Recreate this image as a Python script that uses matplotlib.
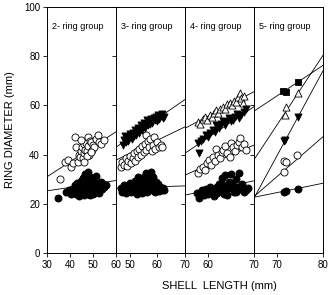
import matplotlib
matplotlib.use("Agg")
import matplotlib.pyplot as plt
import numpy as np

plt.rcParams['font.family'] = ['Liberation Sans', 'DejaVu Sans']

## Panel settings
TITLES = ["2- ring group", "3- ring group", "4- ring group", "5- ring group"]
XLIMS = [(30, 60), (45, 70), (55, 70), (65, 80)]
XTICKS = [[30, 40, 50, 60], [50, 60, 70], [60, 70], [70, 80]]
YTICKS = [0, 20, 40, 60, 80, 100]

# 2-ring group
p1_open_x = [35.6, 38.0, 39.2, 40.6, 41.3, 42.4, 42.7, 43.3, 43.8, 44.2, 44.8, 45.3, 45.6, 46.0, 46.3,
             46.7, 47.0, 47.3, 47.7, 48.0, 48.4, 48.8, 49.2, 49.6, 50.0, 50.6, 51.2, 52.0, 52.7, 53.5,
             54.9, 45.0, 47.5, 49.0, 46.0]
p1_open_y = [30.0, 37.0, 37.8, 35.0, 36.6, 47.3, 43.3, 37.0, 40.0, 39.1, 41.5, 43.0, 38.5, 44.5, 40.5,
             42.0, 44.8, 41.5, 47.3, 43.5, 40.0, 45.5, 45.3, 42.0, 44.0, 43.2, 46.5, 48.0, 45.3, 44.5,
             45.9, 46.0, 39.5, 41.0, 37.0]
p1_fill_x = [34.9, 38.4, 39.5, 40.5, 41.0, 41.8, 42.0, 42.5, 43.0, 43.2, 43.8, 44.0, 44.2, 44.6, 45.0,
             45.3, 45.5, 45.8, 46.0, 46.3, 46.6, 47.0, 47.0, 47.3, 47.7, 47.8, 48.0, 48.3, 48.6, 48.8,
             49.0, 49.3, 49.6, 50.0, 50.2, 50.5, 50.8, 51.2, 51.5, 51.8, 52.2, 52.5, 53.0, 53.5, 54.0,
             54.5, 55.0, 55.6, 46.5, 44.8]
p1_fill_y = [22.6, 24.9, 25.5, 24.0, 26.0, 25.0, 27.5, 24.2, 26.5, 28.5, 25.2, 23.2, 27.0, 29.5, 25.8,
             24.0, 28.0, 30.5, 26.5, 23.5, 28.8, 31.5, 25.0, 27.2, 33.0, 24.0, 29.5, 26.0, 31.0, 23.8,
             28.0, 25.5, 30.0, 27.0, 24.2, 29.0, 26.0, 31.5, 25.0, 28.0, 26.5, 24.5, 27.5, 29.0, 26.0,
             28.0, 27.0, 27.5, 32.0, 26.0]

# 3-ring group
p2_dtri_x = [47.5, 48.0, 48.3, 48.8, 49.2, 49.5, 50.0, 50.3, 50.7, 51.0, 51.4, 51.8, 52.2, 52.5, 52.9,
             53.3, 53.6, 54.0, 54.4, 54.8, 55.1, 55.5, 55.9, 56.2, 56.6, 57.0, 57.4, 57.8, 58.2, 58.6,
             59.0, 59.4, 59.8, 60.2, 60.6, 61.0, 61.5, 62.0, 62.4]
p2_dtri_y = [44.0, 46.0, 47.5, 45.0, 47.0, 45.5, 48.5, 47.0, 46.5, 49.0, 47.5, 50.0, 48.0, 49.5, 51.0,
             49.0, 50.5, 52.0, 50.0, 51.5, 53.0, 51.0, 52.5, 54.0, 52.0, 53.5, 52.5, 54.5, 53.0, 55.0,
             54.0, 55.5, 53.5, 56.0, 54.5, 55.5, 56.5, 55.0, 55.5]
p2_open_x = [46.7, 47.2, 48.0, 48.5, 49.0, 49.5, 50.0, 50.5, 51.0, 51.5, 52.0, 52.5, 53.0, 53.5, 54.0,
             54.5, 55.0, 55.5, 55.7, 56.0, 56.5, 57.0, 57.5, 58.0, 58.5, 58.8, 59.3, 60.0, 60.5, 61.2,
             61.7]
p2_open_y = [35.0, 37.0, 36.0, 38.5, 35.5, 37.5, 39.5, 36.5, 38.5, 40.5, 37.5, 41.5, 39.0, 42.5, 40.0,
             43.5, 41.0, 44.5, 48.0, 42.0, 45.5, 43.0, 46.5, 41.5, 44.0, 47.0, 42.5, 45.0, 43.0, 44.0,
             43.0]
p2_fill_x = [46.7, 47.2, 47.8, 48.3, 48.8, 49.2, 49.7, 50.2, 50.5, 51.0, 51.4, 51.8, 52.2, 52.5, 52.9,
             53.3, 53.7, 54.0, 54.4, 54.8, 55.1, 55.5, 55.8, 56.2, 56.5, 56.9, 57.3, 57.6, 58.0, 58.3,
             58.7, 59.0, 59.4, 59.8, 60.2, 60.6, 61.0, 61.5, 62.0, 62.4, 53.0, 56.0, 50.0, 57.8]
p2_fill_y = [26.3, 25.0, 27.5, 25.8, 24.5, 27.0, 26.0, 28.5, 24.8, 27.2, 25.5, 29.5, 26.5, 24.2, 28.0,
             25.8, 30.5, 27.0, 24.5, 29.0, 26.2, 31.5, 27.8, 25.0, 30.0, 26.8, 28.5, 33.0, 25.5, 31.0,
             27.5, 24.8, 29.0, 26.0, 28.0, 25.2, 27.0, 25.8, 26.5, 25.6, 31.0, 32.5, 26.0, 30.0]

# 4-ring group
p3_otri_x = [57.8, 58.3, 58.9, 59.3, 59.8, 60.4, 60.8, 61.3, 61.8, 62.2, 62.7, 63.3, 63.7, 64.2, 64.7,
             65.2, 65.6, 66.1, 66.5, 66.9, 67.2, 67.6, 67.8]
p3_otri_y = [53.4, 52.5, 54.7, 55.5, 54.0, 56.1, 55.2, 57.0, 58.1, 56.8, 58.5, 59.5, 58.6, 60.5, 61.1,
             60.0, 62.0, 61.5, 63.5, 64.9, 62.9, 61.0, 63.8]
p3_dtri_x = [57.8, 58.1, 58.5, 59.0, 59.6, 60.0, 60.5, 61.1, 61.5, 61.8, 62.3, 62.8, 63.3, 63.6, 64.0,
             64.5, 65.0, 65.4, 65.8, 66.3, 66.7, 67.2, 67.8, 68.3]
p3_dtri_y = [44.8, 40.6, 45.5, 46.5, 48.0, 47.0, 49.0, 50.0, 49.2, 52.0, 51.0, 52.5, 53.8, 52.2, 53.4,
             54.8, 53.5, 54.0, 55.5, 56.5, 55.0, 56.0, 57.5, 58.5]
p3_open_x = [57.8, 58.2, 58.9, 59.4, 59.8, 60.2, 60.7, 61.1, 61.5, 61.8, 62.2, 62.6, 63.0, 63.3, 63.8,
             64.2, 64.7, 64.9, 65.4, 65.8, 66.3, 66.7, 66.9, 67.4, 67.8, 68.2]
p3_open_y = [32.5, 34.0, 35.1, 33.8, 36.5, 37.8, 36.0, 39.0, 37.5, 42.5, 40.0, 38.5, 41.0, 41.9, 43.5,
             40.5, 39.1, 44.6, 43.2, 41.5, 44.0, 45.2, 46.6, 43.0, 44.5, 41.9]
p3_fill_x = [57.6, 58.0, 58.4, 58.8, 59.2, 59.6, 60.0, 60.4, 60.8, 61.2, 61.6, 62.0, 62.4, 62.8, 63.2,
             63.5, 63.8, 64.2, 64.5, 64.9, 65.3, 65.6, 66.0, 66.3, 66.7, 67.0, 67.4, 67.8, 68.2, 68.6,
             62.0, 60.2, 64.0, 66.0, 63.0, 65.0]
p3_fill_y = [24.5, 22.2, 25.0, 25.6, 23.5, 26.0, 24.0, 27.0, 25.0, 23.2, 26.5, 24.5, 28.0, 25.5, 27.5,
             24.0, 31.7, 23.6, 29.0, 26.5, 28.5, 25.0, 30.0, 27.0, 32.4, 26.0, 28.0, 25.0, 25.6, 26.5,
             27.0, 25.5, 26.0, 25.0, 30.5, 32.0]

# 5-ring group
p4_sq_x = [71.4, 71.9, 74.5]
p4_sq_y = [66.0, 65.3, 69.4]
p4_otri_x = [71.7, 71.9, 74.6]
p4_otri_y = [56.0, 59.5, 64.9]
p4_dtri_x = [71.6, 71.8, 74.6]
p4_dtri_y = [45.5, 46.0, 55.4]
p4_open_x = [71.5, 72.0, 71.6, 74.3]
p4_open_y = [37.5, 37.2, 32.8, 39.8]
p4_fill_x = [71.5, 71.9, 74.6]
p4_fill_y = [25.0, 25.2, 26.0]

# regression lines: (intercept, slope) per series
p1_lines = [(12.7, 0.61), (21.1, 0.14)]
p2_lines = [(8.1, 0.776), (13.5, 0.54), (24.8, 0.036)]
p3_lines = [(-3.9, 0.993), (-28.7, 1.26), (-13.0, 0.813), (2.3, 0.387)]
p4_lines = [(-22.9, 1.24), (-146.0, 2.83), (-201.9, 3.45), (-82.3, 1.62), (-2.0, 0.38)]

panels = [
    [(p1_open_x, p1_open_y, 'o', 'white'), (p1_fill_x, p1_fill_y, 'o', 'black')],
    [(p2_dtri_x, p2_dtri_y, 'v', 'black'), (p2_open_x, p2_open_y, 'o', 'white'),
     (p2_fill_x, p2_fill_y, 'o', 'black')],
    [(p3_otri_x, p3_otri_y, '^', 'white'), (p3_dtri_x, p3_dtri_y, 'v', 'black'),
     (p3_open_x, p3_open_y, 'o', 'white'), (p3_fill_x, p3_fill_y, 'o', 'black')],
    [(p4_sq_x, p4_sq_y, 's', 'black'), (p4_otri_x, p4_otri_y, '^', 'white'),
     (p4_dtri_x, p4_dtri_y, 'v', 'black'), (p4_open_x, p4_open_y, 'o', 'white'),
     (p4_fill_x, p4_fill_y, 'o', 'black')],
]
lines = [p1_lines, p2_lines, p3_lines, p4_lines]

fig, axes = plt.subplots(1, 4, figsize=(3.33, 2.95), dpi=100, sharey=True)
fig.subplots_adjust(left=0.141, right=0.970, top=0.976, bottom=0.142, wspace=0)

for i, ax in enumerate(axes):
    x0, x1 = XLIMS[i]
    xx = np.array([x0, x1])
    for a, b in lines[i]:
        ax.plot(xx, a + b * xx, color='black', lw=0.6, zorder=1)
    for xs, ys, m, fc in panels[i]:
        s = 18 if m == 's' else 26
        ax.scatter(xs, ys, marker=m, s=s, facecolor=fc, edgecolor='black',
                   linewidth=0.6, zorder=2)
    ax.set_xlim(x0, x1)
    ax.set_ylim(0, 100)
    ax.set_xticks(XTICKS[i])
    ax.set_yticks(YTICKS)
    ax.tick_params(direction='out', length=3, width=0.6, labelsize=7, pad=2)
    ax.text(0.07, 0.94, TITLES[i], transform=ax.transAxes, fontsize=6.5, va='top', ha='left')
    for sp in ax.spines.values():
        sp.set_linewidth(0.7)
    if i > 0:
        ax.tick_params(labelleft=False)

fig.text(0.03, 0.56, "RING DIAMETER (mm)", rotation=90, ha='center', va='center', fontsize=8)
fig.text(0.66, 0.03, "SHELL  LENGTH (mm)", ha='center', va='center', fontsize=8)

fig.savefig("out.png", dpi=100)
